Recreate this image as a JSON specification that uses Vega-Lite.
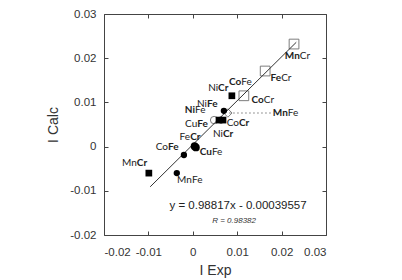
{
  "$schema": "https://vega.github.io/schema/vega-lite/v6.json",
  "width": 222,
  "height": 221,
  "autosize": "none",
  "padding": {"left": 104, "top": 14, "right": 76, "bottom": 45},
  "background": "white",
  "config": {
    "view": {"stroke": "#444", "strokeWidth": 1},
    "font": "Liberation Sans",
    "axis": {
      "grid": false,
      "domain": false,
      "tickColor": "#444",
      "tickSize": -4,
      "labelFont": "Liberation Sans",
      "labelFontSize": 11.5,
      "labelColor": "#333",
      "titleFont": "Liberation Sans",
      "titleFontSize": 14,
      "titleFontWeight": "normal",
      "titleColor": "#333"
    }
  },
  "datasets": {
    "pts": [
      {"x": 0.0228, "y": 0.0232, "kind": "osq"},
      {"x": 0.0163, "y": 0.0171, "kind": "osq"},
      {"x": 0.0115, "y": 0.0115, "kind": "osq"},
      {"x": 0.0048, "y": 0.0060, "kind": "oci"},
      {"x": 0.0088, "y": 0.0115, "kind": "fsq"},
      {"x": 0.0059, "y": 0.0060, "kind": "fsq"},
      {"x": 0.0068, "y": 0.0060, "kind": "fsq"},
      {"x": 0.0070, "y": 0.0081, "kind": "fci"},
      {"x": 0.0079, "y": 0.0076, "kind": "odi"},
      {"x": 0.0004, "y": 0.0001, "kind": "bci"},
      {"x": 0.0007, "y": -0.0002, "kind": "bci"},
      {"x": -0.0020, "y": -0.0019, "kind": "fci"},
      {"x": -0.0099, "y": -0.0060, "kind": "fsq"},
      {"x": -0.0036, "y": -0.0060, "kind": "fci"}
    ],
    "fit": [
      {"x": -0.0096, "y": -0.0091},
      {"x": 0.0233, "y": 0.0236}
    ],
    "lead": [
      {"x": 0.0082, "y": 0.0076},
      {"x": 0.0181, "y": 0.0076}
    ],
    "labels": [
      {"a": "Mn", "b": "Cr", "wa": "bold", "wb": "normal", "x": 0.0241, "y": 0.0205},
      {"a": "Fe", "b": "Cr", "wa": "bold", "wb": "normal", "x": 0.0199, "y": 0.0155},
      {"a": "Co", "b": "Cr", "wa": "bold", "wb": "normal", "x": 0.0160, "y": 0.0105},
      {"a": "Co", "b": "Fe", "wa": "bold", "wb": "normal", "x": 0.0109, "y": 0.0146},
      {"a": "Ni", "b": "Cr", "wa": "normal", "wb": "bold", "x": 0.0057, "y": 0.0133},
      {"a": "Ni", "b": "Fe", "wa": "normal", "wb": "bold", "x": 0.0032, "y": 0.0097},
      {"a": "Ni", "b": "Fe", "wa": "bold", "wb": "normal", "x": 0.0005, "y": 0.0082},
      {"a": "Mn", "b": "Fe", "wa": "bold", "wb": "normal", "x": 0.0214, "y": 0.0076},
      {"a": "Cu", "b": "Fe", "wa": "normal", "wb": "bold", "x": 0.0010, "y": 0.0051},
      {"a": "Co", "b": "Cr", "wa": "normal", "wb": "bold", "x": 0.0104, "y": 0.0053},
      {"a": "Ni", "b": "Cr", "wa": "normal", "wb": "bold", "x": 0.0068, "y": 0.0029},
      {"a": "Fe", "b": "Cr", "wa": "normal", "wb": "bold", "x": -0.0006, "y": 0.0022},
      {"a": "Co", "b": "Fe", "wa": "normal", "wb": "bold", "x": -0.0056, "y": -0.0001},
      {"a": "Cu", "b": "Fe", "wa": "bold", "wb": "normal", "x": 0.0043, "y": -0.0012},
      {"a": "Mn", "b": "Cr", "wa": "normal", "wb": "bold", "x": -0.0126, "y": -0.0037},
      {"a": "Mn", "b": "Fe", "wa": "normal", "wb": "normal", "x": -0.0002, "y": -0.0076}
    ],
    "notes": [
      {"t": "y = 0.98817x - 0.00039557", "x": 0.0102, "y": -0.0134, "kind": "eq"},
      {"t": "R = 0.98382", "x": 0.0093, "y": -0.0168, "kind": "r"}
    ]
  },
  "layer": [
    {
      "data": {"name": "fit"},
      "mark": {"type": "line", "color": "#333", "strokeWidth": 1},
      "encoding": {
        "x": {"field": "x", "type": "quantitative", "scale": {"domain": [-0.02, 0.03], "nice": false, "zero": false},
          "axis": {"title": "I Exp", "values": [-0.02, -0.01, 0, 0.01, 0.02, 0.03], "labelPadding": 15, "titlePadding": 6,
            "labelExpr": "replace(format(datum.value, '.2~f'), '−', '-')"}},
        "y": {"field": "y", "type": "quantitative", "scale": {"domain": [-0.02, 0.03], "nice": false, "zero": false},
          "axis": {"title": "I Calc", "values": [-0.02, -0.01, 0, 0.01, 0.02, 0.03], "labelPadding": 12, "titlePadding": 9,
            "labelExpr": "replace(format(datum.value, '.2~f'), '−', '-')"}}
      }
    },
    {
      "data": {"name": "lead"},
      "mark": {"type": "line", "color": "#777", "strokeWidth": 1, "strokeDash": [1.5, 2.5]},
      "encoding": {
        "x": {"field": "x", "type": "quantitative", "axis": {"orient": "top", "labels": false, "title": null, "values": [-0.02, -0.01, 0, 0.01, 0.02, 0.03]}},
        "y": {"field": "y", "type": "quantitative", "axis": {"orient": "right", "labels": false, "title": null, "values": [-0.02, -0.01, 0, 0.01, 0.02, 0.03]}}
      }
    },
    {
      "data": {"name": "pts"},
      "transform": [{"filter": "datum.kind == 'osq'"}],
      "mark": {"type": "point", "shape": "square", "filled": false, "color": "#333", "strokeWidth": 0.9, "size": 95},
      "encoding": {
        "x": {"field": "x", "type": "quantitative", "axis": null},
        "y": {"field": "y", "type": "quantitative", "axis": null}
      }
    },
    {
      "data": {"name": "pts"},
      "transform": [{"filter": "datum.kind == 'oci'"}],
      "mark": {"type": "point", "shape": "circle", "filled": false, "color": "#333", "strokeWidth": 0.9, "size": 55},
      "encoding": {
        "x": {"field": "x", "type": "quantitative", "axis": null},
        "y": {"field": "y", "type": "quantitative", "axis": null}
      }
    },
    {
      "data": {"name": "pts"},
      "transform": [{"filter": "datum.kind == 'odi'"}],
      "mark": {"type": "point", "shape": "diamond", "filled": false, "color": "#333", "strokeWidth": 0.9, "size": 70},
      "encoding": {
        "x": {"field": "x", "type": "quantitative", "axis": null},
        "y": {"field": "y", "type": "quantitative", "axis": null}
      }
    },
    {
      "data": {"name": "pts"},
      "transform": [{"filter": "datum.kind == 'fsq'"}],
      "mark": {"type": "square", "color": "#000", "opacity": 1, "size": 45},
      "encoding": {
        "x": {"field": "x", "type": "quantitative", "axis": null},
        "y": {"field": "y", "type": "quantitative", "axis": null}
      }
    },
    {
      "data": {"name": "pts"},
      "transform": [{"filter": "datum.kind == 'fci'"}],
      "mark": {"type": "circle", "color": "#000", "opacity": 1, "size": 40},
      "encoding": {
        "x": {"field": "x", "type": "quantitative", "axis": null},
        "y": {"field": "y", "type": "quantitative", "axis": null}
      }
    },
    {
      "data": {"name": "pts"},
      "transform": [{"filter": "datum.kind == 'bci'"}],
      "mark": {"type": "circle", "color": "#000", "opacity": 1, "size": 60},
      "encoding": {
        "x": {"field": "x", "type": "quantitative", "axis": null},
        "y": {"field": "y", "type": "quantitative", "axis": null}
      }
    },
    {
      "data": {"name": "labels"},
      "transform": [{"filter": "datum.wa == 'bold'"}],
      "mark": {"type": "text", "align": "right", "baseline": "middle", "font": "Lato", "fontSize": 10, "fontWeight": "bold", "color": "#222"},
      "encoding": {
        "x": {"field": "x", "type": "quantitative", "axis": null},
        "y": {"field": "y", "type": "quantitative", "axis": null},
        "text": {"field": "a"}
      }
    },
    {
      "data": {"name": "labels"},
      "transform": [{"filter": "datum.wa == 'normal'"}],
      "mark": {"type": "text", "align": "right", "baseline": "middle", "font": "Lato", "fontSize": 10, "fontWeight": "normal", "color": "#222"},
      "encoding": {
        "x": {"field": "x", "type": "quantitative", "axis": null},
        "y": {"field": "y", "type": "quantitative", "axis": null},
        "text": {"field": "a"}
      }
    },
    {
      "data": {"name": "labels"},
      "transform": [{"filter": "datum.wb == 'bold'"}],
      "mark": {"type": "text", "align": "left", "baseline": "middle", "font": "Lato", "fontSize": 10, "fontWeight": "bold", "color": "#222"},
      "encoding": {
        "x": {"field": "x", "type": "quantitative", "axis": null},
        "y": {"field": "y", "type": "quantitative", "axis": null},
        "text": {"field": "b"}
      }
    },
    {
      "data": {"name": "labels"},
      "transform": [{"filter": "datum.wb == 'normal'"}],
      "mark": {"type": "text", "align": "left", "baseline": "middle", "font": "Lato", "fontSize": 10, "fontWeight": "normal", "color": "#222"},
      "encoding": {
        "x": {"field": "x", "type": "quantitative", "axis": null},
        "y": {"field": "y", "type": "quantitative", "axis": null},
        "text": {"field": "b"}
      }
    },
    {
      "data": {"name": "notes"},
      "transform": [{"filter": "datum.kind == 'eq'"}],
      "mark": {"type": "text", "align": "center", "baseline": "middle", "font": "Liberation Sans", "fontSize": 11.5, "color": "#222"},
      "encoding": {
        "x": {"field": "x", "type": "quantitative", "axis": null},
        "y": {"field": "y", "type": "quantitative", "axis": null},
        "text": {"field": "t"}
      }
    },
    {
      "data": {"name": "notes"},
      "transform": [{"filter": "datum.kind == 'r'"}],
      "mark": {"type": "text", "align": "center", "baseline": "middle", "font": "Liberation Sans", "fontSize": 8, "fontStyle": "italic", "color": "#333"},
      "encoding": {
        "x": {"field": "x", "type": "quantitative", "axis": null},
        "y": {"field": "y", "type": "quantitative", "axis": null},
        "text": {"field": "t"}
      }
    }
  ],
  "resolve": {"axis": {"x": "independent", "y": "independent"}}
}
